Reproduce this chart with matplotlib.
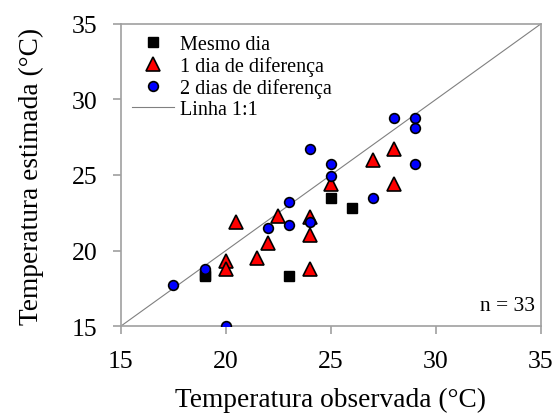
import numpy as np
import matplotlib
matplotlib.use('Agg')
import matplotlib.pyplot as plt

plt.rcParams['font.family'] = ['Liberation Serif', 'DejaVu Serif']

# Mesmo dia
obs_0 = [19, 19, 23, 25, 26]
est_0 = [18.4, 18.3, 18.3, 23.5, 22.8]

# 1 dia de diferenca
obs_1 = [20, 20, 20.5, 21.5, 22, 22.5, 24, 24, 24, 25, 27, 28, 28]
est_1 = [19.3, 18.8, 21.9, 19.5, 20.5, 22.3, 22.2, 21.0, 18.8, 24.4, 26.0, 26.7, 24.4]

# 2 dias de diferenca
obs_2 = [17.5, 19, 20, 22, 23, 23, 24, 24, 25, 25, 27, 28, 29, 29, 29]
est_2 = [17.7, 18.8, 15.0, 21.5, 23.2, 21.7, 26.7, 21.9, 25.7, 24.9, 23.5, 28.8, 28.8, 28.1, 25.7]

lims = [15, 35]
ticks = [15, 20, 25, 30, 35]

fig = plt.figure(figsize=(5.6, 4.14), dpi=100)
ax = fig.add_axes([0.216, 0.21, 0.75, 0.73])

ax.plot(obs_0, est_0, linestyle='none', marker='s', markersize=7.5, color='black', label='Mesmo dia', zorder=3)
ax.plot(obs_1, est_1, linestyle='none', marker='^', markersize=10, markerfacecolor='red',
        markeredgecolor='black', markeredgewidth=1.2, label='1 dia de diferença', zorder=3)
ax.plot(obs_2, est_2, linestyle='none', marker='o', markersize=7, markerfacecolor='blue',
        markeredgecolor='black', markeredgewidth=1.2, label='2 dias de diferença', zorder=4)
ax.plot(lims, lims, color='gray', linewidth=0.8, label='Linha 1:1', zorder=2)

ax.set_xlim(lims)
ax.set_ylim(lims)
ax.set_xticks(ticks)
ax.set_yticks(ticks)
for s in ax.spines.values():
    s.set_color('#a0a0a0')
    s.set_linewidth(1.2)
ax.tick_params(direction='out', length=6, width=1.2, color='#a0a0a0', labelsize=18.5, pad=11)

ax.set_xlabel('Temperatura observada (°C)', fontsize=19.7, labelpad=11)
ax.set_ylabel('Temperatura estimada (°C)', fontsize=19.7, labelpad=20)

ax.text(0.985, 0.035, 'n = 33', transform=ax.transAxes, ha='right', va='bottom', fontsize=15.5)

ax.legend(loc='upper left', frameon=False, fontsize=14.5, handlelength=2.1, handletextpad=0.3,
          labelspacing=0.1, borderaxespad=0.3, borderpad=0.25)

fig.savefig('out.png', dpi=100)
